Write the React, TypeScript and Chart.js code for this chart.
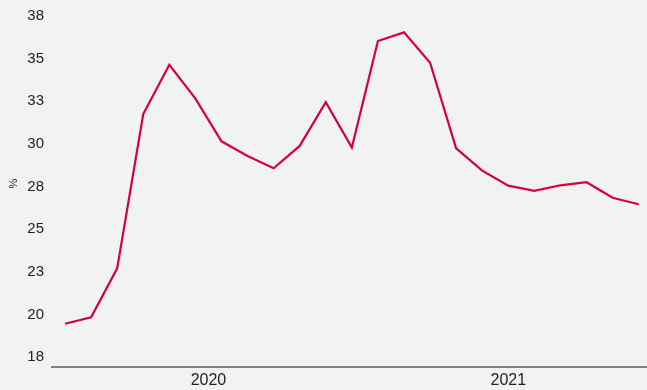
import React, { useEffect, useRef } from "react";
import { Chart, registerables } from "chart.js";

Chart.register(...registerables);

const months: string[] = [
  "2020-01", "2020-02", "2020-03", "2020-04", "2020-05", "2020-06",
  "2020-07", "2020-08", "2020-09", "2020-10", "2020-11", "2020-12",
  "2021-01", "2021-02", "2021-03", "2021-04", "2021-05", "2021-06",
  "2021-07", "2021-08", "2021-09", "2021-10", "2021-11",
];

const values: number[] = [
  19.45, 19.83, 22.7, 31.75, 34.64, 32.65, 30.15, 29.29, 28.57, 29.88, 32.44, 29.78,
  36.03, 36.54, 34.76, 29.74, 28.43, 27.55, 27.24, 27.57, 27.75, 26.84, 26.46,
];

const yearLabels: string[] = ["2020", "2021"];
const yTicks: number[] = [17.5, 20, 22.5, 25, 27.5, 30, 32.5, 35, 37.5];
const yTitle = "%";

const FONT = "'Liberation Sans', Arial, sans-serif";
const TEXT = "#222222";

export default function App() {
  const ref = useRef<HTMLCanvasElement | null>(null);

  useEffect(() => {
    document.body.style.margin = "0";
    document.body.style.background = "#f0f3f2";
    const canvas = ref.current;
    if (!canvas) return;

    const yearPositions = yearLabels.map((yr) => {
      const idx = months.map((m, i) => (m.startsWith(yr) ? i : -1)).filter((i) => i >= 0);
      return (idx[0] + idx[idx.length - 1]) / 2;
    });

    const bgPlugin = {
      id: "bg",
      beforeDraw(chart: any) {
        const { ctx, width, height } = chart;
        ctx.save();
        ctx.fillStyle = "#f0f3f2";
        ctx.fillRect(0, 0, width, height);
        ctx.restore();
      },
    };

    const chart = new Chart(canvas, {
      type: "line",
      data: {
        datasets: [
          {
            data: values.map((v, i) => ({ x: i, y: v })),
            borderColor: "#d8003a",
            borderWidth: 2.2,
            pointRadius: 0,
            tension: 0,
            fill: false,
          },
        ],
      },
      options: {
        animation: false,
        responsive: false,
        maintainAspectRatio: false,
        layout: { padding: 0 },
        plugins: { legend: { display: false }, tooltip: { enabled: false } },
        scales: {
          x: {
            type: "linear",
            min: -0.5,
            max: months.length - 1 + 0.32,
            grid: { display: false, drawTicks: false },
            border: { display: true, color: "#808080", width: 2 },
            afterBuildTicks: (scale: any) => {
              scale.ticks = yearPositions.map((v) => ({ value: v }));
            },
            afterFit: (scale: any) => {
              scale.height = 23;
              scale.paddingLeft = 0;
              scale.paddingRight = 0;
            },
            ticks: {
              autoSkip: false,
              maxRotation: 0,
              padding: 4,
              color: TEXT,
              font: { family: FONT, size: 16 },
              callback: (_v: any, i: number) => yearLabels[i],
            },
          },
          y: {
            min: 16.913,
            max: 38.438,
            grid: { display: false, drawTicks: false },
            border: { display: false },
            afterBuildTicks: (scale: any) => {
              scale.ticks = yTicks.map((v) => ({ value: v }));
            },
            afterFit: (scale: any) => {
              scale.width = 52;
              scale.paddingTop = 0;
              scale.paddingBottom = 0;
            },
            title: {
              display: true,
              text: yTitle,
              color: TEXT,
              font: { family: FONT, size: 11 },
              padding: { top: 7, bottom: 0 },
            },
            ticks: {
              padding: 8,
              color: TEXT,
              font: { family: FONT, size: 15 },
              callback: (v: any) => String(Math.round(Number(v))),
            },
          },
        },
      },
      plugins: [bgPlugin],
    });

    return () => chart.destroy();
  }, []);

  return (
    <div style={{ width: 647, height: 390, background: "#f0f3f2" }}>
      <canvas ref={ref} width={647} height={390} style={{ display: "block", width: 647, height: 390 }} />
    </div>
  );
}
